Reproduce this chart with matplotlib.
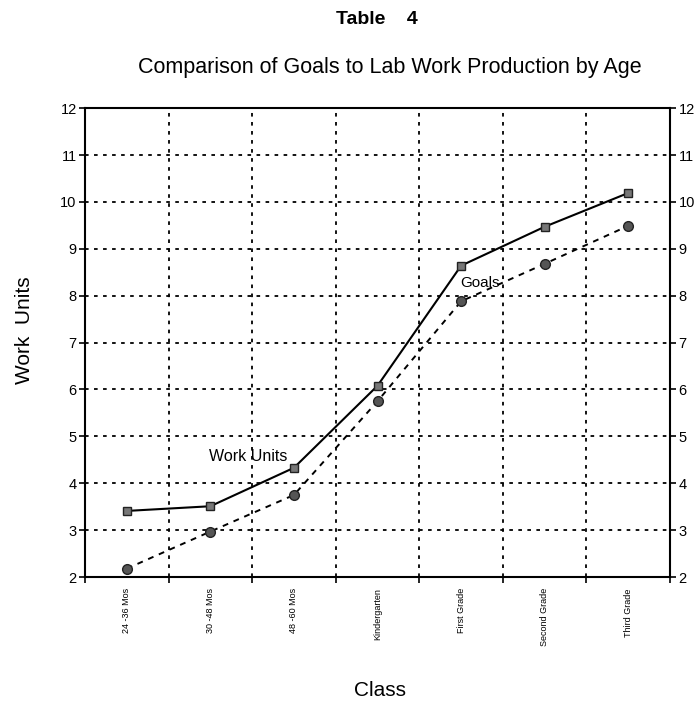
import numpy as np
import matplotlib.pyplot as plt

plt.rcParams['font.family'] = ['Liberation Sans', 'DejaVu Sans']

classes = ['24 -36 Mos', '30 -48 Mos', '48 -60 Mos', 'Kindergarten',
           'First Grade', 'Second Grade', 'Third Grade']
work_units = [3.41, 3.51, 4.33, 6.08, 8.64, 9.47, 10.19]
goals = [2.18, 2.97, 3.75, 5.75, 7.88, 8.68, 9.49]
y_ticks = list(range(2, 13))

x = np.arange(len(classes))

fig = plt.figure(figsize=(6.94, 7.02), dpi=100)
ax = fig.add_axes([0.1225, 0.178, 0.843, 0.668])

ax.plot(x, work_units, '-', color='black', linewidth=1.5, marker='s',
        markersize=6, markerfacecolor='#777777', markeredgecolor='#222222',
        zorder=4)
ax.plot(x, goals, linestyle=(0, (3, 3)), color='black', linewidth=1.4,
        marker='o', markersize=7, markerfacecolor='#555555',
        markeredgecolor='#222222', zorder=4)

ax.text(1.45, 4.58, 'Work Units', fontsize=11.5, ha='center', va='center')
ax.text(3.99, 8.27, 'Goals', fontsize=11, ha='left', va='center')

ax.set_xlim(-0.5, len(classes) - 0.5)
ax.set_ylim(2, 12)
ax.set_yticks(y_ticks)
ax.set_xticks(x)
ax.set_xticklabels(classes, rotation=90, fontsize=6.5)
ax.set_xticks(np.arange(len(classes) + 1) - 0.5, minor=True)
ax.tick_params(axis='x', which='major', length=0, pad=8)
ax.tick_params(axis='x', which='minor', length=4, width=1.2, direction='out')
ax.tick_params(axis='y', which='major', labelsize=10.5, length=4, width=1.2,
               left=True, right=True, labelleft=True, labelright=True,
               direction='out', pad=2)

ax.grid(axis='y', which='major', linestyle=(0, (2, 3)), color='black',
        linewidth=1.3)
ax.grid(axis='x', which='minor', linestyle=(0, (2, 3)), color='black',
        linewidth=1.3)
ax.grid(axis='x', which='major', visible=False)

for s in ax.spines.values():
    s.set_linewidth(1.5)

fig.text(25 / 694, 1 - 330 / 702, 'Work  Units', fontsize=15,
         rotation=90, ha='center', va='center')
fig.text(380 / 694, 1 - 690 / 702, 'Class', fontsize=15,
         ha='center', va='center')

fig.text(377 / 694, 1 - 20 / 702, 'Table    4', fontsize=14, fontweight='bold',
         ha='center', va='center')
fig.text(390 / 694, 1 - 67 / 702,
         'Comparison of Goals to Lab Work Production by Age',
         fontsize=15.5, ha='center', va='center')

plt.savefig('out.png', dpi=100)
